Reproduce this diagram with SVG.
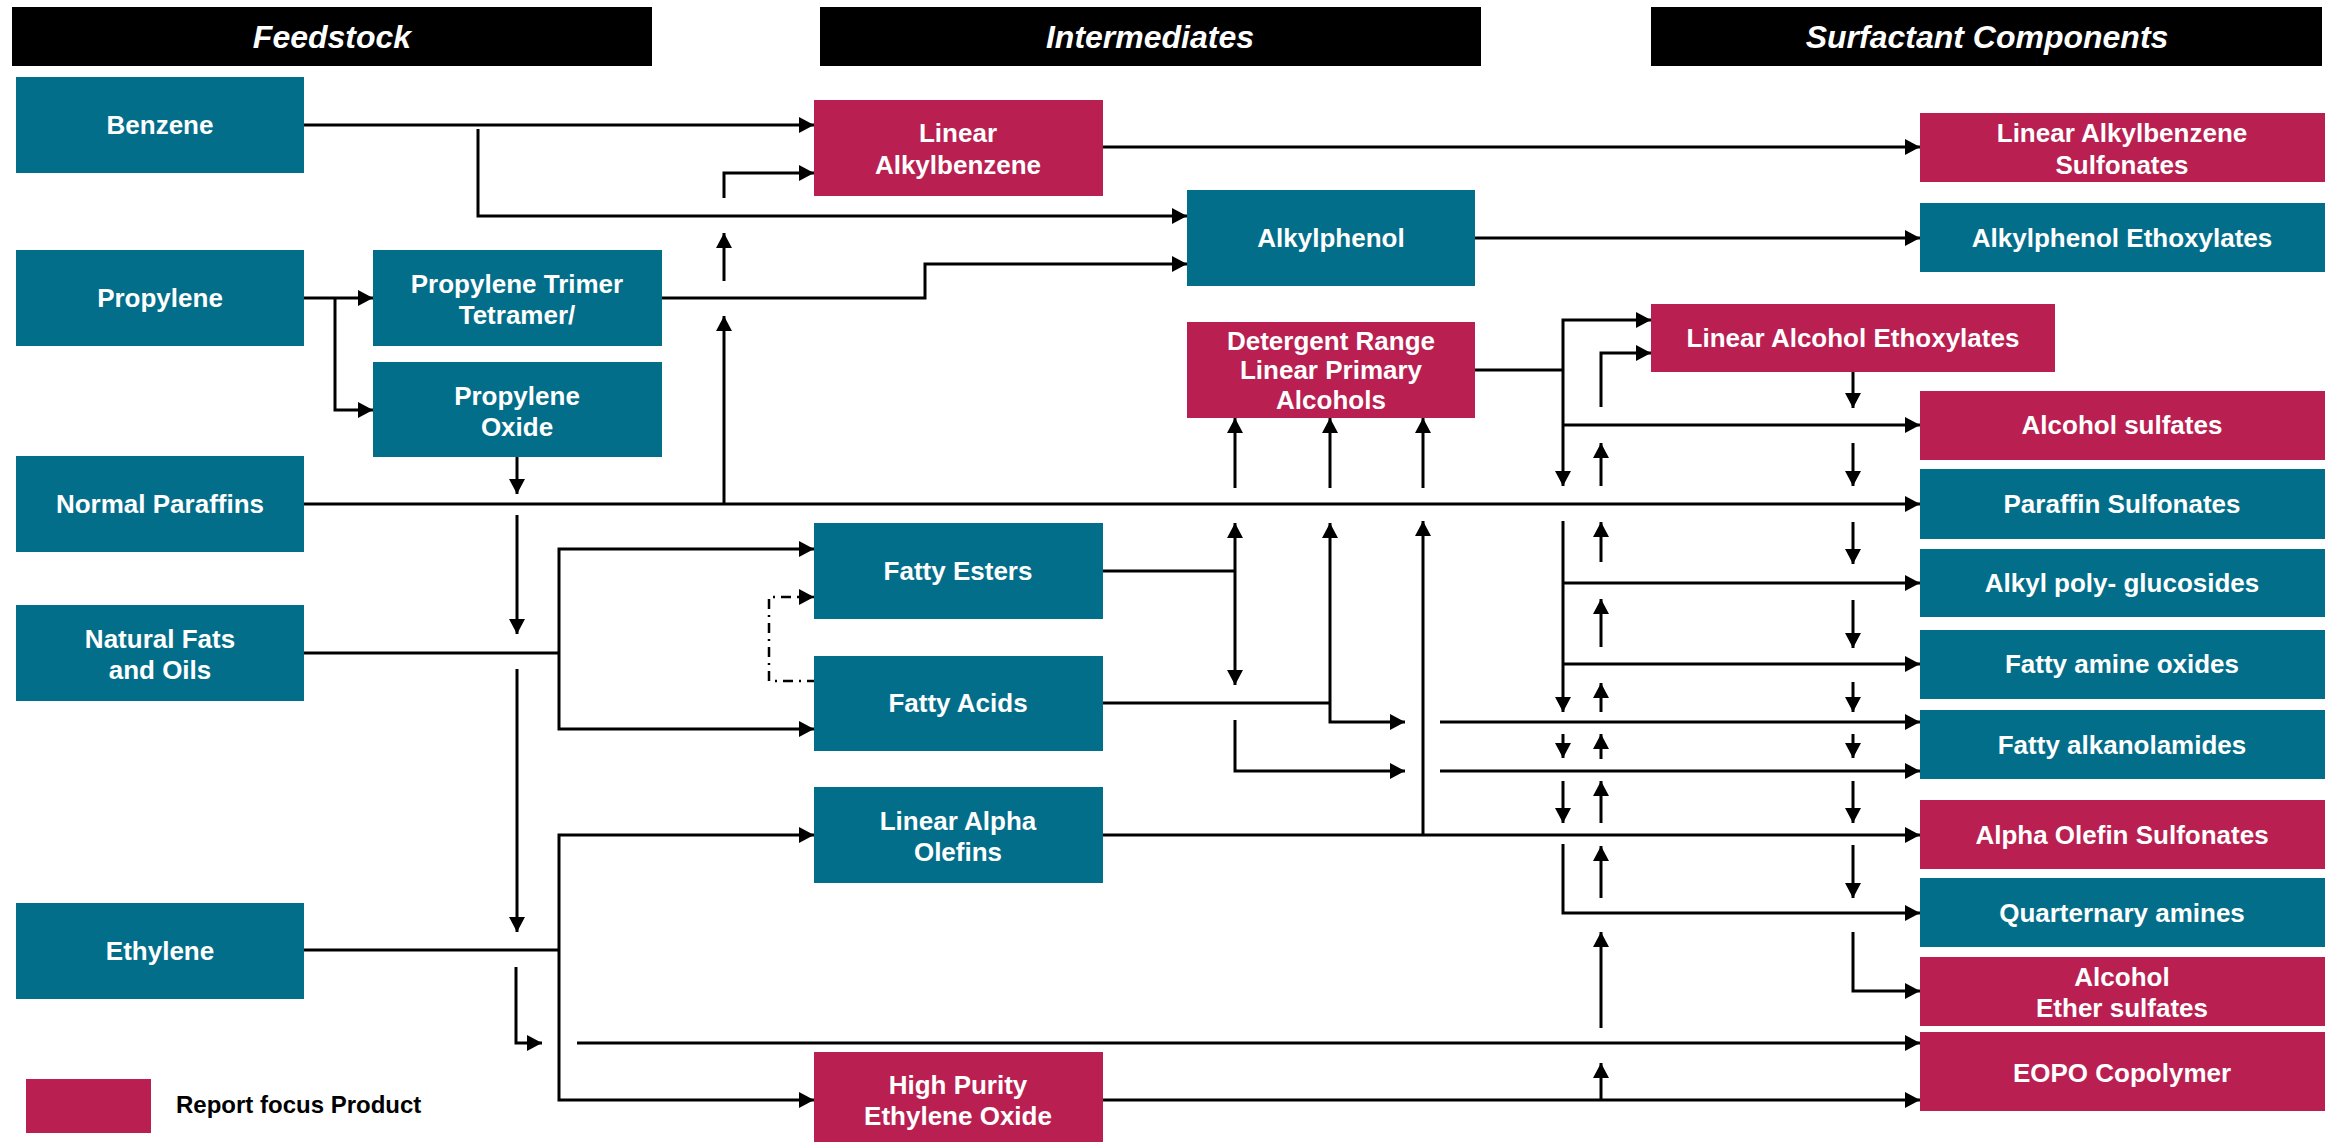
<svg xmlns="http://www.w3.org/2000/svg" width="2338" height="1142" viewBox="0 0 2338 1142">
<defs>
<marker id="ah" markerUnits="userSpaceOnUse" markerWidth="16" markerHeight="16" refX="15" refY="8" orient="auto">
<path d="M0,0 L15,8 L0,16 Z" fill="#000"/>
</marker>
<style>
.hdr{fill:#000}
.ht{font-family:"Liberation Sans",Arial,sans-serif;font-weight:bold;font-style:italic;font-size:32px;fill:#fff;text-anchor:middle}
.teal{fill:#036e8a}
.red{fill:#b91f51}
.t{font-family:"Liberation Sans",Arial,sans-serif;font-weight:bold;font-size:26px;fill:#fff;text-anchor:middle}
.lg{font-family:"Liberation Sans",Arial,sans-serif;font-weight:bold;font-size:24px;fill:#000}
.c path{fill:none;stroke:#000;stroke-width:3}
.c .a{marker-end:url(#ah)}
.c .d{stroke-width:2.5;stroke-dasharray:10,6,2,6}
</style>
</defs>
<rect width="2338" height="1142" fill="#fff"/>

<g id="headers">
<rect class="hdr" x="12" y="7" width="640" height="59"/>
<text class="ht" x="332" y="48">Feedstock</text>
<rect class="hdr" x="820" y="7" width="661" height="59"/>
<text class="ht" x="1150" y="48">Intermediates</text>
<rect class="hdr" x="1651" y="7" width="671" height="59"/>
<text class="ht" x="1987" y="48">Surfactant Components</text>
</g>

<g class="c" id="connectors">
<path class="a" d="M304,125 H814"/>
<path class="a" d="M478,129 V216 H1187"/>
<path class="a" d="M304,298 H373"/>
<path class="a" d="M335,298 V410 H373"/>
<path class="a" d="M662,298 H925 V264 H1187"/>
<path class="a" d="M724,504 V316"/>
<path class="a" d="M724,281 V233"/>
<path class="a" d="M724,198 V173 H814"/>
<path class="a" d="M304,504 H1920"/>
<path class="a" d="M517,457 V494"/>
<path class="a" d="M517,515 V634"/>
<path class="a" d="M517,669 V932"/>
<path class="a" d="M516,967 V1043 H542"/>
<path class="a" d="M577,1043 H1920"/>
<path d="M304,653 H559"/>
<path class="a" d="M559,653 V549 H814"/>
<path class="a" d="M559,653 V729 H814"/>
<path class="a d" d="M817,681 H769 V597 H814"/>
<path d="M304,950 H559"/>
<path class="a" d="M559,950 V835 H814"/>
<path class="a" d="M559,950 V1100 H814"/>
<path class="a" d="M1103,147 H1920"/>
<path class="a" d="M1475,238 H1920"/>
<path d="M1475,370 H1563"/>
<path class="a" d="M1563,370 V320 H1651"/>
<path class="a" d="M1563,370 V486"/>
<path class="a" d="M1563,425 H1920"/>
<path class="a" d="M1563,521 V712"/>
<path class="a" d="M1563,583 H1920"/>
<path class="a" d="M1563,664 H1920"/>
<path class="a" d="M1563,734 V758"/>
<path class="a" d="M1563,781 V823"/>
<path class="a" d="M1563,844 V913 H1920"/>
<path class="a" d="M1601,407 V353 H1651"/>
<path class="a" d="M1601,486 V443"/>
<path class="a" d="M1601,562 V522"/>
<path class="a" d="M1601,647 V599"/>
<path class="a" d="M1601,712 V683"/>
<path class="a" d="M1601,759 V734"/>
<path class="a" d="M1601,823 V781"/>
<path class="a" d="M1601,898 V846"/>
<path class="a" d="M1601,1028 V932"/>
<path class="a" d="M1601,1100 V1063"/>
<path class="a" d="M1853,372 V408"/>
<path class="a" d="M1853,443 V486"/>
<path class="a" d="M1853,522 V564"/>
<path class="a" d="M1853,600 V648"/>
<path class="a" d="M1853,682 V712"/>
<path class="a" d="M1853,734 V758"/>
<path class="a" d="M1853,781 V823"/>
<path class="a" d="M1853,845 V898"/>
<path class="a" d="M1853,932 V991 H1920"/>
<path class="a" d="M1235,488 V418"/>
<path class="a" d="M1330,488 V418"/>
<path class="a" d="M1423,488 V418"/>
<path d="M1103,571 H1235"/>
<path class="a" d="M1235,571 V523"/>
<path class="a" d="M1235,571 V685"/>
<path class="a" d="M1235,720 V771 H1405"/>
<path class="a" d="M1440,771 H1920"/>
<path d="M1103,703 H1330"/>
<path class="a" d="M1330,703 V523"/>
<path class="a" d="M1330,703 V722 H1405"/>
<path class="a" d="M1440,722 H1920"/>
<path class="a" d="M1103,835 H1920"/>
<path class="a" d="M1423,835 V521"/>
<path class="a" d="M1103,1100 H1920"/>
</g>

<g id="benzene"><rect class="teal" x="16" y="77" width="288" height="96"/><text class="t" x="160" y="134">Benzene</text></g>
<g id="propylene"><rect class="teal" x="16" y="250" width="288" height="96"/><text class="t" x="160" y="307">Propylene</text></g>
<g id="normal-paraffins"><rect class="teal" x="16" y="456" width="288" height="96"/><text class="t" x="160" y="513">Normal Paraffins</text></g>
<g id="natural-fats"><rect class="teal" x="16" y="605" width="288" height="96"/><text class="t" x="160" y="648">Natural Fats</text><text class="t" x="160" y="679">and Oils</text></g>
<g id="ethylene"><rect class="teal" x="16" y="903" width="288" height="96"/><text class="t" x="160" y="960">Ethylene</text></g>

<g id="propylene-trimer"><rect class="teal" x="373" y="250" width="289" height="96"/><text class="t" x="517" y="293">Propylene Trimer</text><text class="t" x="517" y="324">Tetramer/</text></g>
<g id="propylene-oxide"><rect class="teal" x="373" y="362" width="289" height="95"/><text class="t" x="517" y="405">Propylene</text><text class="t" x="517" y="436">Oxide</text></g>

<g id="linear-alkylbenzene"><rect class="red" x="814" y="100" width="289" height="96"/><text class="t" x="958" y="142">Linear</text><text class="t" x="958" y="174">Alkylbenzene</text></g>
<g id="alkylphenol"><rect class="teal" x="1187" y="190" width="288" height="96"/><text class="t" x="1331" y="247">Alkylphenol</text></g>
<g id="detergent-alcohols"><rect class="red" x="1187" y="322" width="288" height="96"/><text class="t" x="1331" y="350">Detergent Range</text><text class="t" x="1331" y="379">Linear Primary</text><text class="t" x="1331" y="409">Alcohols</text></g>
<g id="fatty-esters"><rect class="teal" x="814" y="523" width="289" height="96"/><text class="t" x="958" y="580">Fatty Esters</text></g>
<g id="fatty-acids"><rect class="teal" x="814" y="656" width="289" height="95"/><text class="t" x="958" y="712">Fatty Acids</text></g>
<g id="linear-alpha-olefins"><rect class="teal" x="814" y="787" width="289" height="96"/><text class="t" x="958" y="830">Linear Alpha</text><text class="t" x="958" y="861">Olefins</text></g>
<g id="high-purity-eo"><rect class="red" x="814" y="1052" width="289" height="96"/><text class="t" x="958" y="1094">High Purity</text><text class="t" x="958" y="1125">Ethylene Oxide</text></g>

<g id="las"><rect class="red" x="1920" y="113" width="405" height="69"/><text class="t" x="2122" y="142">Linear Alkylbenzene</text><text class="t" x="2122" y="174">Sulfonates</text></g>
<g id="ape"><rect class="teal" x="1920" y="203" width="405" height="69"/><text class="t" x="2122" y="247">Alkylphenol Ethoxylates</text></g>
<g id="lae"><rect class="red" x="1651" y="304" width="404" height="68"/><text class="t" x="1853" y="347">Linear Alcohol Ethoxylates</text></g>
<g id="alcohol-sulfates"><rect class="red" x="1920" y="391" width="405" height="69"/><text class="t" x="2122" y="434">Alcohol sulfates</text></g>
<g id="paraffin-sulfonates"><rect class="teal" x="1920" y="469" width="405" height="70"/><text class="t" x="2122" y="513">Paraffin Sulfonates</text></g>
<g id="apg"><rect class="teal" x="1920" y="549" width="405" height="68"/><text class="t" x="2122" y="592">Alkyl poly- glucosides</text></g>
<g id="fatty-amine-oxides"><rect class="teal" x="1920" y="630" width="405" height="69"/><text class="t" x="2122" y="673">Fatty amine oxides</text></g>
<g id="fatty-alkanolamides"><rect class="teal" x="1920" y="710" width="405" height="69"/><text class="t" x="2122" y="754">Fatty alkanolamides</text></g>
<g id="aos"><rect class="red" x="1920" y="800" width="405" height="69"/><text class="t" x="2122" y="844">Alpha Olefin Sulfonates</text></g>
<g id="quarternary-amines"><rect class="teal" x="1920" y="878" width="405" height="69"/><text class="t" x="2122" y="922">Quarternary amines</text></g>
<g id="aes"><rect class="red" x="1920" y="957" width="405" height="69"/><text class="t" x="2122" y="986">Alcohol</text><text class="t" x="2122" y="1017">Ether sulfates</text></g>
<g id="eopo"><rect class="red" x="1920" y="1032" width="405" height="79"/><text class="t" x="2122" y="1082">EOPO Copolymer</text></g>

<g id="legend"><rect class="red" x="26" y="1079" width="125" height="54"/><text class="lg" x="176" y="1113">Report focus Product</text></g>
</svg>
